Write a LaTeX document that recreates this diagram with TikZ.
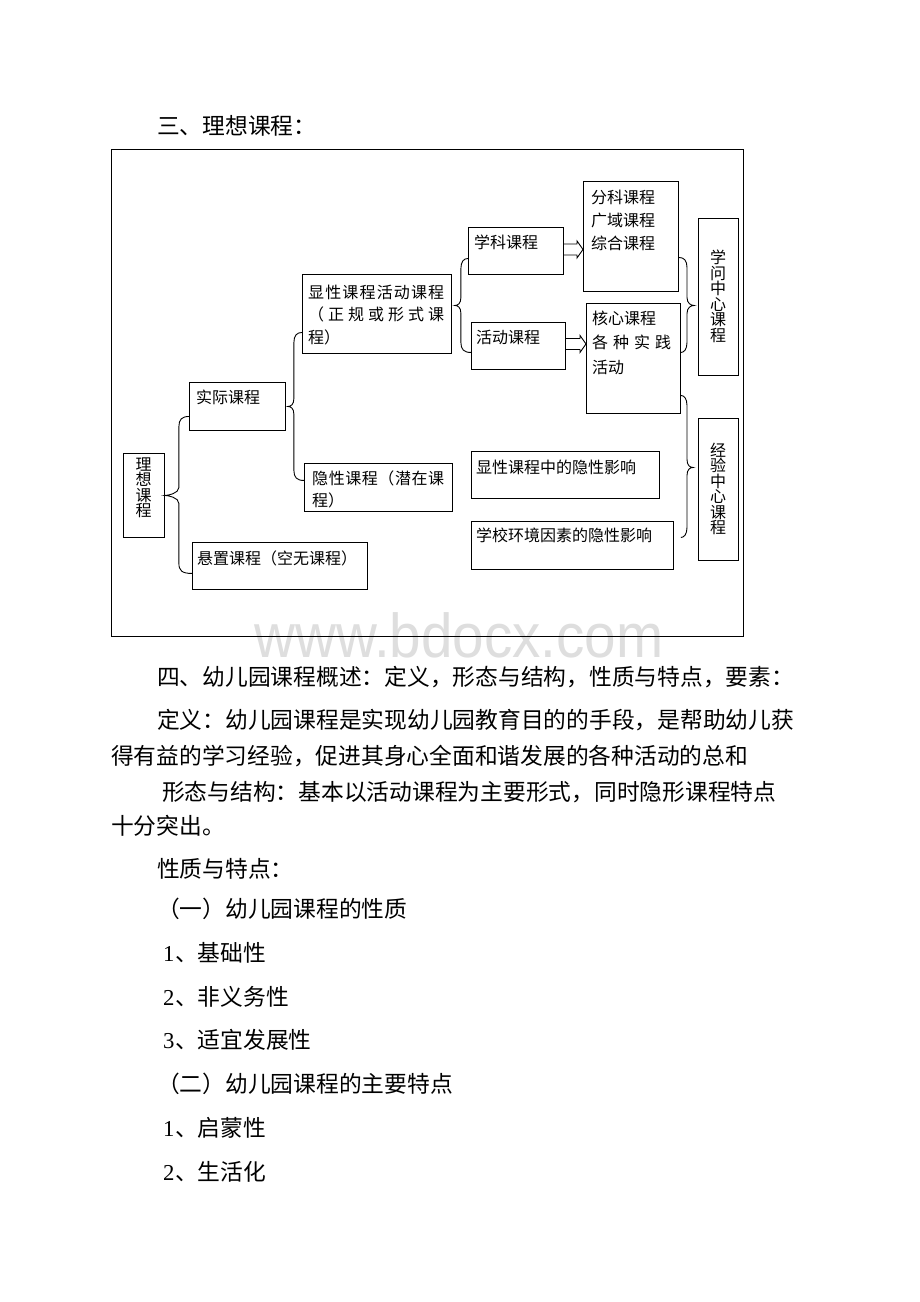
\documentclass[tikz,border=0pt]{standalone}
\usepackage{fontspec}
\usetikzlibrary{calc}
\newfontfamily\cjk{Noto Sans CJK SC}
\newfontfamily\tnr{Liberation Serif}
\newfontfamily\wmfont{Liberation Sans}
% left brace (opens to the right): #1 top end, #2 tip, #3 bottom end, #4 offset of spine from tip
\newcommand\lbr[4]{\draw[cn] let \p1=(#1), \p2=(#2), \p3=(#3) in
 (\p1) .. controls ({\x2+#4+3pt},\y1) and ({\x2+#4},{\y1-3pt}) .. ({\x2+#4},{\y1-10pt})
 -- ({\x2+#4},{\y2+8pt}) .. controls ({\x2+#4},{\y2+2pt}) and ({\x2+3pt},\y2) .. (\p2)
 .. controls ({\x2+3pt},\y2) and ({\x2+#4},{\y2-2pt}) .. ({\x2+#4},{\y2-8pt})
 -- ({\x2+#4},{\y3+10pt}) .. controls ({\x2+#4},{\y3+3pt}) and ({\x2+#4+3pt},\y3) .. (\p3);}
% right brace (opens to the left)
\newcommand\rbr[4]{\draw[cn] let \p1=(#1), \p2=(#2), \p3=(#3) in
 (\p1) .. controls ({\x2-#4-3pt},\y1) and ({\x2-#4},{\y1-3pt}) .. ({\x2-#4},{\y1-10pt})
 -- ({\x2-#4},{\y2+8pt}) .. controls ({\x2-#4},{\y2+2pt}) and ({\x2-3pt},\y2) .. (\p2)
 .. controls ({\x2-3pt},\y2) and ({\x2-#4},{\y2-2pt}) .. ({\x2-#4},{\y2-8pt})
 -- ({\x2-#4},{\y3+10pt}) .. controls ({\x2-#4},{\y3+3pt}) and ({\x2-#4-3pt},\y3) .. (\p3);}
% hollow block arrow: #1 start point, #2 end point (only its x is used)
\newcommand\barrow[2]{\draw[cn] let \p1=(#1), \p2=(#2) in
 (\x1,{\y1+5.5pt}) -- ({\x2-6pt},{\y1+5.5pt}) -- ({\x2-6pt},{\y1+8.5pt}) -- (\x2,\y1)
 -- ({\x2-6pt},{\y1-8.5pt}) -- ({\x2-6pt},{\y1-5.5pt}) -- (\x1,{\y1-5.5pt});}
\begin{document}
\begin{tikzpicture}[x=1pt,y=-1pt,
  cn/.style={line width=0.9pt, line join=miter},
  bx/.style={draw, line width=0.9pt, inner sep=0, anchor=north west},
  bt/.style={font=\cjk\fontsize{16}{16}\selectfont, inner sep=0, anchor=base west},
  vt/.style={font=\cjk\fontsize{16}{15.5}\selectfont, inner sep=0, align=center},
  body/.style={font=\cjk\fontsize{22.75}{22.75}\selectfont, inner sep=0, anchor=base west}]
\fill[white] (0,0) rectangle (920,1302);
\useasboundingbox (0,0) rectangle (920,1302);

% watermark
\node[font=\wmfont\fontsize{62}{62}\selectfont, text=black!13, inner sep=0, text depth=0pt, anchor=base] (wmk) at (459,657) {\scalebox{0.913}[1]{www.bdocx.com}};

% frame
\node[bx, line width=0.8pt, minimum width=632pt, minimum height=487pt] (frame) at (111,149) {};

% boxes
\node[bx, minimum width=41pt,  minimum height=84pt]  (lixiang)  at (123,453) {};
\node[bx, minimum width=96pt,  minimum height=48pt]  (shiji)    at (189,382) {};
\node[bx, minimum width=175pt, minimum height=47pt]  (xuanzhi)  at (192,542) {};
\node[bx, minimum width=149pt, minimum height=79pt]  (xianxing) at (302,274) {};
\node[bx, minimum width=148pt, minimum height=48pt]  (yinxing)  at (304,463) {};
\node[bx, minimum width=95pt,  minimum height=47pt]  (xueke)    at (468,227) {};
\node[bx, minimum width=94pt,  minimum height=47pt]  (huodong)  at (471,322) {};
\node[bx, minimum width=95pt,  minimum height=110pt] (fenke)    at (583,181) {};
\node[bx, minimum width=94pt,  minimum height=110pt] (hexin)    at (586,303) {};
\node[bx, minimum width=40pt,  minimum height=157pt] (xuewen)   at (698,218) {};
\node[bx, minimum width=40pt,  minimum height=142pt] (jingyan)  at (698,418) {};
\node[bx, minimum width=188pt, minimum height=47pt]  (xxzy)     at (471,451) {};
\node[bx, minimum width=202pt, minimum height=48pt]  (xxhj)     at (471,521) {};

% box texts
\node[vt] (lixiang-t) at (143.5,488) {理\\想\\课\\程};
\node[bt] (shiji-t) at (196,403) {实际课程};
\node[bt] (xuanzhi-t) at (197,564) {悬置课程（空无课程）};
\node[bt] (xianxing-t1) at (308,298) {\makebox[136pt]{显\hfill 性\hfill 课\hfill 程\hfill 活\hfill 动\hfill 课\hfill 程}};
\node[bt] (xianxing-t2) at (308,320.5) {\makebox[136pt]{（\hfill 正\hfill 规\hfill 或\hfill 形\hfill 式\hfill 课}};
\node[bt] (xianxing-t3) at (308,343) {程）};
\node[bt] (yinxing-t1) at (312,484) {\makebox[132pt]{隐\hfill 性\hfill 课\hfill 程\hfill （\hfill 潜\hfill 在\hfill 课}};
\node[bt] (yinxing-t2) at (312,506) {程）};
\node[bt] (xueke-t) at (474,248) {学科课程};
\node[bt] (huodong-t) at (476,343) {活动课程};
\node[bt] (fenke-t1) at (591,203) {分科课程};
\node[bt] (fenke-t2) at (591,226) {广域课程};
\node[bt] (fenke-t3) at (591,249) {综合课程};
\node[bt] (hexin-t1) at (592,324) {核心课程};
\node[bt] (hexin-t2) at (592,348.5) {\makebox[79pt]{各\hfill 种\hfill 实\hfill 践}};
\node[bt] (hexin-t3) at (592,373) {活动};
\node[vt] (xuewen-t) at (718,296.5) {学\\问\\中\\心\\课\\程};
\node[vt] (jingyan-t) at (718,489) {经\\验\\中\\心\\课\\程};
\node[bt] (xxzy-t) at (476,473) {显性课程中的隐性影响};
\node[bt] (xxhj-t) at (476,541) {学校环境因素的隐性影响};

% braces
\lbr{[yshift=-10pt]shiji.west}{lixiang.east}{[yshift=-7.5pt]xuanzhi.west}{14pt}
\lbr{[yshift=-18.5pt]xianxing.west}{[xshift=2pt]shiji.east}{[yshift=7pt]yinxing.west}{6pt}
\lbr{[yshift=-7.5pt]xueke.west}{[xshift=3pt,yshift=8.5pt]xianxing.east}{[yshift=-6.5pt]huodong.west}{6pt}
\rbr{[yshift=-21pt]fenke.east}{[xshift=-4pt,yshift=-8.5pt]xuewen.west}{[yshift=6pt]hexin.east}{7pt}
\rbr{[yshift=-37pt]hexin.east}{[xshift=-5pt,yshift=22pt]jingyan.west}{[xshift=7pt,yshift=8pt]xxhj.east}{6pt}

% block arrows
\barrow{[yshift=1.5pt]xueke.east}{fenke.west}
\barrow{[yshift=2pt]huodong.east}{hexin.west}

% body text
\node[body] (h3) at (157,134.6) {三、理想课程：};
\node[body] (h4) at (157,685.6) {四、幼儿园课程概述：定义，形态与结构，性质与特点，要素：};
\node[body] (d1) at (157,728.6) {定义：幼儿园课程是实现幼儿园教育目的的手段，是帮助幼儿获};
\node[body] (d2) at (111,764.6) {得有益的学习经验，促进其身心全面和谐发展的各种活动的总和};
\node[body] (f1) at (162,800.6) {形态与结构：基本以活动课程为主要形式，同时隐形课程特点};
\node[body] (f2) at (111,834.6) {十分突出。};
\node[body] (p0) at (157,877.6) {性质与特点：};
\node[body] (p1) at (157,917.6) {（一）幼儿园课程的性质};
\node[body] (p11) at (163,961.6) {\makebox[12pt][l]{\tnr 1}、基础性};
\node[body] (p12) at (163,1005.6) {\makebox[12pt][l]{\tnr 2}、非义务性};
\node[body] (p13) at (163,1048.6) {\makebox[12pt][l]{\tnr 3}、适宜发展性};
\node[body] (p2) at (157,1092.6) {（二）幼儿园课程的主要特点};
\node[body] (p21) at (163,1136.6) {\makebox[12pt][l]{\tnr 1}、启蒙性};
\node[body] (p22) at (163,1180.6) {\makebox[12pt][l]{\tnr 2}、生活化};
\end{tikzpicture}
\end{document}
